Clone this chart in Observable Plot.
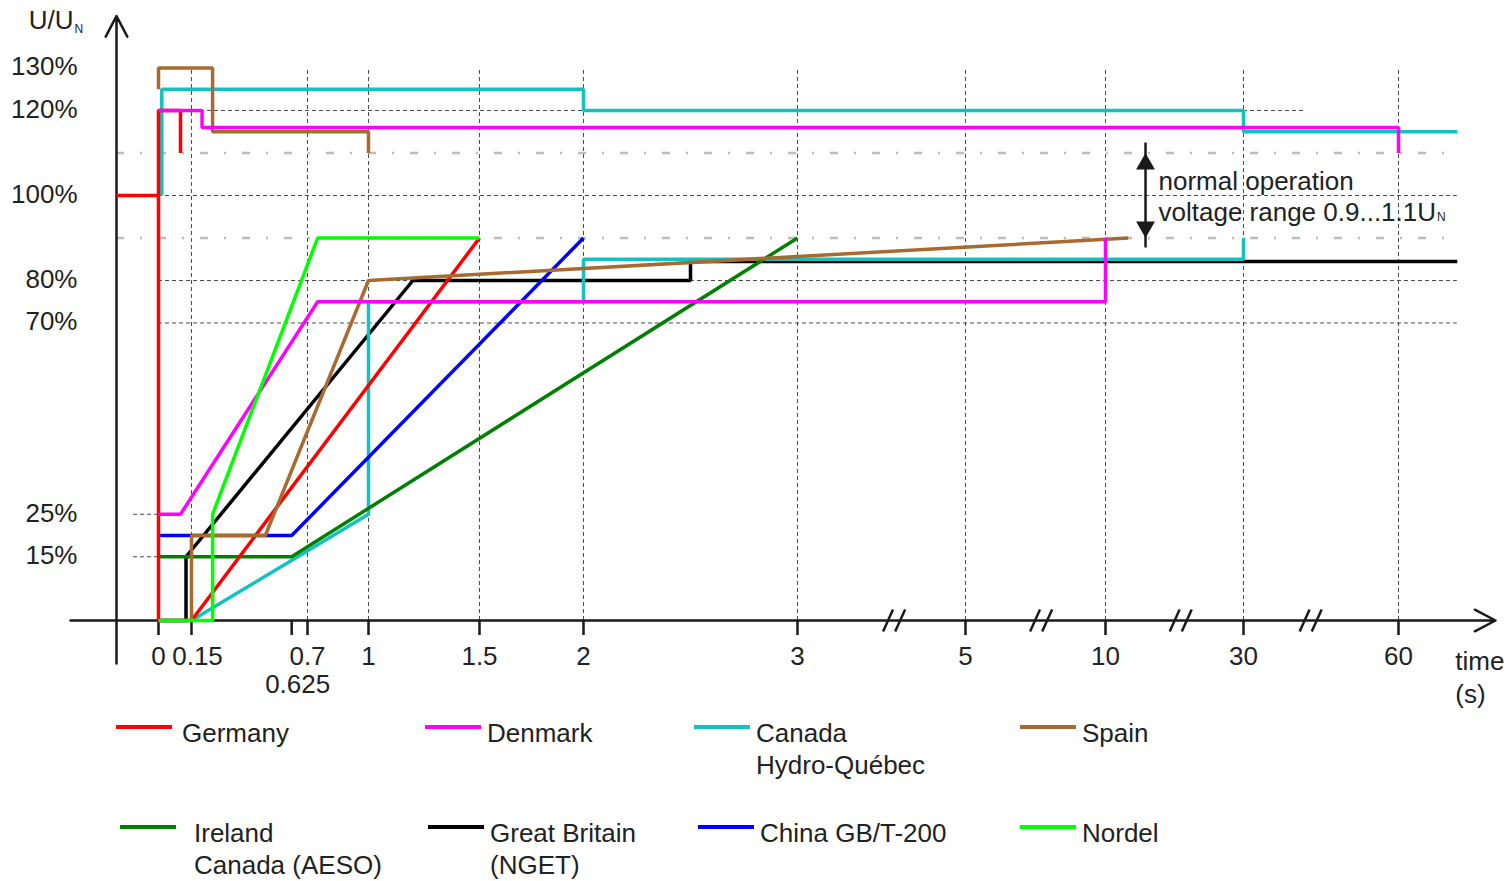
<!DOCTYPE html>
<html><head><meta charset="utf-8">
<script src="https://cdn.jsdelivr.net/npm/d3@7"></script>
<script src="https://cdn.jsdelivr.net/npm/@observablehq/plot@0.6"></script>
<style>
body{margin:0;background:#fff;font-family:"Liberation Sans",Arial,sans-serif;color:#222}
#wrap{position:relative;width:1511px;height:881px;overflow:hidden}
#wrap svg{position:absolute;left:0;top:0}
.item{position:absolute;display:flex;align-items:flex-start;font-size:26px;line-height:32px;white-space:pre}
.sw{width:56px;height:4px;margin-top:8px;flex:none}
</style></head><body><div id="wrap"></div>
<script>
// ---- axis values ----
const xTickValues = [0, 0.15, 0.625, 0.7, 1, 1.5, 2, 3, 5, 10, 30, 60];
const xLabelValues = [0, 0.7, 1, 1.5, 2, 3, 5, 10, 30, 60];
const xGridValues = [0.15, 0.7, 1, 1.5, 2, 3, 5, 10, 30, 60];
const xBreakValues = [4.15, 7.7, 20.9, 43];
const yTickValues = [15, 25, 70, 80, 100, 120, 130];
const normalBand = [90, 110];
// broken time axis: time stops and where they sit
const xStops = [-0.2, 0, 0.15, 0.7, 1, 1.5, 2, 3, 5, 10, 30, 60, 100];
const xStopPixels = [116, 158, 191, 307, 368, 479, 583, 797, 965, 1105, 1243, 1398, 1505];

// ---- series [time s, U %] ----
const germanyHigh = [[-0.2,100],[0,100],[0,120],[0.1,120],[0.1,110]];
const germanyLow  = [[0,100],[0,0],[0.15,0],[1.5,90]];
const denmarkHigh = [[0,120],[0.2,120],[0.2,116],[60,116],[60,110]];
const denmarkLow  = [[0,25],[0.1,25],[0.75,75],[10,75],[10,90]];
const quebecHigh  = [[0.015,100],[0.015,125],[2,125],[2,120],[30,120],[30,115],[82,115]];
const quebecLow   = [[0,0],[0.15,0],[1,25],[1,75],[2,75],[2,85],[30,85],[30,90]];
const spainHigh   = [[0,125],[0,130],[0.25,130],[0.25,115],[1,115],[1,110]];
const spainLow    = [[0.15,0],[0.15,20],[0.5,20],[1,80],[13.3,90]];
const irelandLow  = [[0,15],[0.625,15],[3,90]];
const britainLow  = [[0,0],[0.125,0],[0.125,15],[1.2,80],[2.5,80],[2.5,84.5],[82,84.5]];
const chinaLow    = [[0,20],[0.625,20],[2,90]];
const nordelLow   = [[0,0],[0.25,0],[0.25,25],[0.75,90],[1.5,90]];

const seriesNames  = ["Germany","Denmark","Canada\nHydro-Québec","Spain","Ireland\nCanada (AESO)","Great Britain\n(NGET)","China GB/T-200","Nordel"];
const seriesColors = ["#ff0000","#ff00ff","#12c2c2","#a86a30","#008000","#000000","#0000ff","#00ff00"];
const seriesParts  = [[germanyHigh,germanyLow],[denmarkHigh,denmarkLow],[quebecHigh,quebecLow],[spainHigh,spainLow],[irelandLow],[britainLow],[chinaLow],[nordelLow]];
const drawOrder = [5,2,6,4,0,3,1,7];

const rows = [];
seriesParts.forEach((parts, i) => parts.forEach((pts, j) => pts.forEach(([t, v]) =>
  rows.push({series: seriesNames[i], seg: seriesNames[i] + j, t, v}))));

const FONT = '"Liberation Sans", Arial, sans-serif';
const ctx = document.createElement("canvas").getContext("2d");
ctx.font = "26px " + FONT;
const annLine1 = "normal operation";
const annLine2 = "voltage range 0.9...1.1U";
const annW = ctx.measureText(annLine2).width;
const yLab = "U/U";

const breakSymbol = {draw(c, size) {
  const r = Math.sqrt(size / Math.PI);
  for (const o of [-0.55 * r, 0.55 * r]) { c.moveTo(o - 0.45 * r, r); c.lineTo(o + 0.45 * r, -r); }
}};

const ink = "#1a1a1a";
const gridColor = "#4a4a4a";
const gridDash = "4,3";
const plot = Plot.plot({
  width: 1511, height: 705,
  marginLeft: 82, marginRight: 6, marginTop: 0, marginBottom: 85,
  style: {fontSize: "26px", fontFamily: FONT, color: "#222", background: "transparent", overflow: "visible"},
  x: {type: "linear", domain: xStops, range: xStopPixels, label: null},
  y: {type: "linear", domain: [0, 130], range: [620, 67.5], label: null},
  marks: [
    // grid
    Plot.ruleX(xGridValues, {y1: 0, y2: 130, stroke: gridColor, strokeWidth: 1, strokeDasharray: gridDash}),
    Plot.ruleY([130], {x2: 0.25, stroke: gridColor, strokeDasharray: gridDash}),
    Plot.ruleY([120], {x2: 42, stroke: gridColor, strokeDasharray: gridDash}),
    Plot.ruleY([100, 80, 70], {x2: 82, stroke: gridColor, strokeDasharray: gridDash}),
    Plot.ruleY([25, 15], {x1: -0.12, stroke: gridColor, strokeDasharray: gridDash}),
    Plot.ruleY(normalBand, {x1: -0.2, x2: 82, stroke: "#bdbdbd", strokeWidth: 2.5, strokeDasharray: "8,16,2,16"}),
    // axes
    Plot.axisY(yTickValues, {tickSize: 0, tickPadding: 5, dy: -1, tickFormat: d => d + "%", label: null}),
    Plot.axisX(xTickValues, {tickSize: 15, fill: "none", stroke: ink, strokeWidth: 2.5, label: null}),
    Plot.axisX(xLabelValues, {tickSize: 0, tickPadding: 26, tickFormat: d => String(d), label: null}),
    Plot.axisX([0.15], {tickSize: 0, tickPadding: 26, dx: 6, tickFormat: d => String(d), label: null}),
    Plot.axisX([0.625], {tickSize: 0, tickPadding: 54, dx: 6, tickFormat: d => String(d), label: null}),
    Plot.arrow([0], {x1: xStops[0], y1: 0, x2: xStops[xStops.length - 1], y2: 0, insetStart: -46, insetEnd: 10, headLength: 14, headAngle: 55, stroke: ink, strokeWidth: 2.5}),
    Plot.arrow([0], {x1: xStops[0], y1: 0, x2: xStops[0], y2: 130, insetStart: -43, insetEnd: -52, headLength: 14, headAngle: 55, stroke: ink, strokeWidth: 2.5}),
    Plot.dot(xBreakValues, {x: d => d, y: 0, symbol: breakSymbol, r: 11, fill: "none", stroke: ink, strokeWidth: 2.5}),
    Plot.text([yLab], {x: xStops[0], y: 130, dx: -43, dy: -47, textAnchor: "end"}),
    Plot.text(["N"], {x: xStops[0], y: 130, dx: -42, dy: -39, textAnchor: "start", fontSize: 12}),
    Plot.text(["time\n(s)"], {x: 82, y: 0, dx: -2, dy: 26, textAnchor: "start", lineAnchor: "top", lineHeight: 1.27}),
    // series
    ...drawOrder.map(i => Plot.line(rows.filter(r => r.series === seriesNames[i]),
      {x: "t", y: "v", z: "seg", stroke: seriesColors[i], strokeWidth: 3.5, strokeLinejoin: "miter", strokeLinecap: "butt"})),
    // annotation
    Plot.ruleX([15.8], {y1: normalBand[0], y2: normalBand[1], insetTop: 10, insetBottom: 10, stroke: ink, strokeWidth: 2.5}),
    Plot.dot([normalBand[1]], {x: 15.8, y: d => d, symbol: "triangle", r: 7, fill: ink, stroke: "none", dy: 11}),
    Plot.dot([normalBand[0]], {x: 15.8, y: d => d, symbol: "triangle", r: 7, rotate: 180, fill: ink, stroke: "none", dy: -11}),
    Plot.text([annLine1 + "\n" + annLine2], {x: 15.8, y: 100, dx: 13, textAnchor: "start", lineAnchor: "middle", lineHeight: 1.2}),
    Plot.text(["N"], {x: 15.8, y: 100, dx: 14 + annW, dy: 22, textAnchor: "start", fontSize: 12})
  ]
});
const wrap = document.getElementById("wrap");
wrap.appendChild(plot);

// legend
const legendCols = [[116, 425, 694, 1020], [120, 428, 698, 1020]];
const legendGaps = [[10, 6, 6, 6], [18, 6, 6, 6]];
const legendRows = [717, 817];
seriesNames.forEach((name, i) => {
  const r = Math.floor(i / 4), c = i % 4;
  const it = document.createElement("div");
  it.className = "item";
  it.style.left = legendCols[r][c] + "px";
  it.style.top = legendRows[r] + "px";
  const sw = document.createElement("div");
  sw.className = "sw";
  sw.style.background = seriesColors[i];
  sw.style.marginRight = legendGaps[r][c] + "px";
  const tx = document.createElement("div");
  tx.textContent = name;
  it.appendChild(sw); it.appendChild(tx);
  wrap.appendChild(it);
});
</script></body></html>
